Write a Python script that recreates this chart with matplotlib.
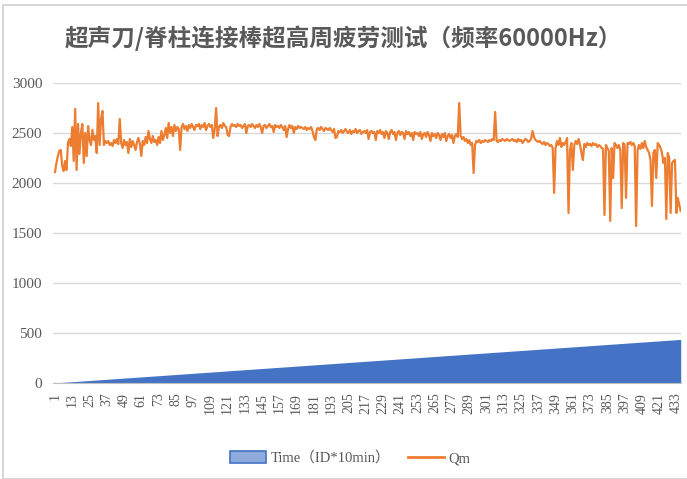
import matplotlib
matplotlib.use("Agg")
import matplotlib.pyplot as plt
from matplotlib.patches import Patch, Rectangle
from matplotlib.lines import Line2D
import numpy as np

# Qm readings per ID (10 per row)
qm = [
    2110, 2200, 2270, 2320, 2330, 2170, 2120, 2220, 2130, 2400,
    2440, 2370, 2560, 2220, 2740, 2130, 2590, 2290, 2500, 2590,
    2200, 2500, 2270, 2570, 2430, 2380, 2530, 2430, 2470, 2300,
    2800, 2380, 2640, 2720, 2380, 2420, 2400, 2420, 2380, 2400,
    2370, 2430, 2400, 2440, 2390, 2640, 2400, 2350, 2430, 2380,
    2410, 2300, 2440, 2360, 2420, 2380, 2330, 2410, 2450, 2390,
    2270, 2420, 2380, 2460, 2400, 2520, 2440, 2400, 2470, 2410,
    2430, 2380, 2460, 2400, 2520, 2430, 2480, 2550, 2450, 2600,
    2500, 2560, 2470, 2580, 2520, 2560, 2540, 2330, 2560, 2590,
    2540, 2570, 2520, 2580, 2550, 2590, 2560, 2530, 2580, 2570,
    2590, 2540, 2580, 2560, 2600, 2530, 2570, 2590, 2560, 2580,
    2450, 2540, 2750, 2470, 2560, 2580, 2550, 2600, 2570, 2560,
    2480, 2470, 2560, 2590, 2570, 2580, 2560, 2590, 2570, 2580,
    2550, 2570, 2590, 2500, 2570, 2580, 2560, 2590, 2570, 2550,
    2580, 2560, 2590, 2560, 2500, 2570, 2580, 2550, 2570, 2590,
    2560, 2570, 2510, 2580, 2560, 2570, 2550, 2580, 2560, 2530,
    2570, 2460, 2540, 2580, 2550, 2570, 2500, 2560, 2540, 2570,
    2550, 2560, 2550, 2540, 2560, 2530, 2550, 2540, 2560, 2520,
    2460, 2430, 2540, 2550, 2530, 2560, 2540, 2520, 2550, 2540,
    2530, 2550, 2530, 2510, 2540, 2450, 2460, 2520, 2510, 2530,
    2500, 2520, 2540, 2510, 2500, 2530, 2490, 2520, 2510, 2540,
    2500, 2520, 2530, 2490, 2510, 2520, 2500, 2530, 2440, 2510,
    2520, 2500, 2510, 2430, 2520, 2500, 2530, 2490, 2510, 2450,
    2520, 2500, 2440, 2510, 2530, 2490, 2510, 2430, 2500, 2520,
    2480, 2510, 2500, 2440, 2520, 2490, 2510, 2470, 2500, 2430,
    2510, 2490, 2500, 2470, 2510, 2440, 2490, 2500, 2460, 2510,
    2480, 2420, 2500, 2470, 2490, 2450, 2500, 2480, 2430, 2490,
    2460, 2500, 2420, 2470, 2490, 2450, 2480, 2400, 2470, 2490,
    2460, 2800, 2470, 2440, 2460, 2420, 2440, 2400, 2430, 2380,
    2400, 2100, 2380, 2420, 2410, 2430, 2400, 2420, 2410, 2430,
    2420, 2410, 2430, 2420, 2440, 2430, 2710, 2420, 2410, 2430,
    2420, 2440, 2430, 2420, 2440, 2430, 2420, 2430, 2440, 2420,
    2430, 2410, 2440, 2420, 2430, 2400, 2420, 2440, 2430, 2410,
    2420, 2440, 2520, 2460, 2430, 2420, 2410, 2420, 2400, 2390,
    2410, 2380, 2400, 2390, 2370, 2380, 2350, 1900, 2350, 2420,
    2380, 2450, 2360, 2400, 2380, 2410, 2450, 1700, 2330, 2400,
    2130, 2380, 2420, 2390, 2440, 2380, 2300, 2230, 2390, 2360,
    2400, 2380, 2390, 2370, 2400, 2380, 2390, 2360, 2380, 2370,
    2350, 2340, 1680, 2380, 2350, 2320, 1620, 2350, 2050, 2400,
    2380, 2350, 2380, 2330, 1750, 2400, 2380, 1850, 2400, 2390,
    2410, 2380, 2400, 2370, 1570, 2330, 2380, 2340, 2400, 2350,
    2420, 2360, 2330, 2300, 2230, 1770, 2300, 2330, 2050, 2400,
    2380, 2350, 2300, 2200, 2250, 1640, 2300, 2250, 1700, 2200,
    2220, 2230, 1700, 1850, 1780, 1720,
]

# category IDs; the Time series is the ID itself (unit: 10 min)
ids = np.arange(1, len(qm) + 1)
time_vals = ids
tick_ids = ids[::12]

title = "超声刀/脊柱连接棒超高周疲劳测试（频率60000Hz）"
label_time = "Time（ID*10min）"
label_qm = "Qm"

blue = "#4472C4"
orange = "#ED7D31"
gray_txt = "#595959"
serif = ["Liberation Serif", "Noto Sans CJK SC"]

fig = plt.figure(figsize=(6.87, 4.79), dpi=100)
fig.patch.set_facecolor("white")
fig.patches.append(Rectangle((3 / 687, 0), 1.2, 1 - 5 / 479, transform=fig.transFigure,
                             fill=False, edgecolor="#d0d0d0", lw=1.2))

ax = fig.add_axes([53.3 / 687, 1 - 383 / 479, (681 - 53.3) / 687, 300 / 479])
ax.fill_between(ids, 0, time_vals, color=blue, lw=0, zorder=2)
ax.plot(ids, qm, color=orange, lw=1.6, zorder=3)

ax.set_ylim(0, 3000)
ax.set_xlim(-0.2, len(qm) + 0.2)
ax.set_yticks(np.arange(0, 3001, 500))
ax.set_xticks(tick_ids)
ax.set_xticklabels([str(t) for t in tick_ids], rotation=90)
ax.grid(axis="y", color="#d9d9d9", lw=1.0, zorder=0)
ax.set_axisbelow(True)
for s in ["top", "right", "left"]:
    ax.spines[s].set_visible(False)
ax.spines["bottom"].set_color("#bfbfbf")
ax.tick_params(axis="both", length=0, colors=gray_txt)
ax.tick_params(axis="y", pad=8, labelsize=11)
ax.tick_params(axis="x", pad=7, labelsize=10)
for lbl in ax.get_xticklabels() + ax.get_yticklabels():
    lbl.set_family(serif)

fig.text(0.5, 1 - 38 / 479, title, ha="center", va="center", fontsize=17,
         fontweight="bold", color=gray_txt, family=["Noto Sans CJK SC", "DejaVu Sans"])

handles = [Patch(facecolor="#8faadc", edgecolor=blue, lw=1.2),
           Line2D([0], [0], color=orange, lw=2)]
leg = fig.legend(handles, [label_time, label_qm], loc="center", bbox_to_anchor=(0.51, 1 - 458 / 479),
                 ncol=2, frameon=False, handlelength=2.5, handleheight=0.9, columnspacing=1.2,
                 handletextpad=0.3, prop={"family": serif, "size": 10.5})
for t in leg.get_texts():
    t.set_color(gray_txt)

fig.savefig("out.png", dpi=100)
